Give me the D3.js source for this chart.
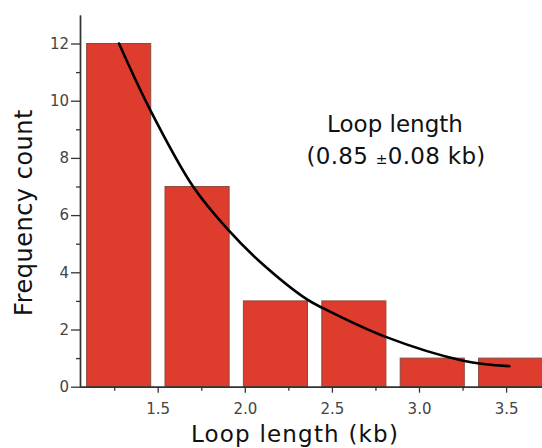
<!DOCTYPE html>
<html>
<head>
<meta charset="utf-8">
<script src="https://cdn.jsdelivr.net/npm/d3@7"></script>
<style>
  html, body { margin: 0; padding: 0; background: #fff; }
  svg { display: block; }
  text { font-family: "DejaVu Sans", sans-serif; }
</style>
</head>
<body>
<svg id="chart" width="542" height="448"></svg>
<script>
// ---- data ----
const binLo = [1.05, 1.50, 1.95, 2.40, 2.85, 3.30];
const binHi = [1.50, 1.95, 2.40, 2.85, 3.30, 3.75];
const counts = [12, 7, 3, 3, 1, 1];

// exponential fit curve
const fitX = [1.278, 1.456, 1.704, 1.905, 2.087, 2.355, 2.451, 2.805, 3.254, 3.518];
const fitY = [12.0, 9.69, 6.99, 5.48, 4.37, 3.06, 2.74, 1.75, 0.91, 0.72];

const xMajorTicks = [1.5, 2.0, 2.5, 3.0, 3.5];
const xMinorTicks = [1.25, 1.75, 2.25, 2.75, 3.25];
const yMajorTicks = [0, 2, 4, 6, 8, 10, 12];
const yMinorTicks = [1, 3, 5, 7, 9, 11];

const xTitle = "Loop length (kb)";
const yTitle = "Frequency count";
const noteLine1 = "Loop length";
const noteLine2a = "(0.85 ";
const notePM = "±";
const noteLine2b = "0.08 kb)";

// ---- layout ----
const svg = d3.select("#chart");
const x = d3.scaleLinear().domain([1.054, 3.706]).range([80, 542]);
const y = d3.scaleLinear().domain([0, 13]).range([386.7, 14.9]);
const barInsetL = 0.042, barInsetR = 0.04;

// bars
svg.append("g").selectAll("rect")
  .data(counts)
  .join("rect")
  .attr("x", (d, i) => x(binLo[i] + barInsetL))
  .attr("width", (d, i) => x(binHi[i] - barInsetR) - x(binLo[i] + barInsetL))
  .attr("y", d => y(d))
  .attr("height", d => y(0) - y(d))
  .attr("fill", "#de3c2c")
  .attr("stroke", "#8a4a40")
  .attr("stroke-width", 1);

// fit curve
const pts = fitX.map((v, i) => [v, fitY[i]]);
svg.append("path")
  .datum(pts)
  .attr("fill", "none")
  .attr("stroke", "#000")
  .attr("stroke-width", 2.6)
  .attr("stroke-linecap", "round")
  .attr("d", d3.line().x(d => x(d[0])).y(d => y(d[1])).curve(d3.curveCatmullRom.alpha(0.5)));

// axes
function styleAxis(g) {
  g.selectAll(".domain").attr("stroke", "#333").attr("stroke-width", 1.4);
  g.selectAll(".tick line").attr("stroke", "#333").attr("stroke-width", 1.3);
  g.selectAll(".tick text").attr("fill", "#444").style("font-size", "15px")
    .style("font-family", "'DejaVu Sans', sans-serif");
}

const yAxis = svg.append("g").attr("transform", "translate(80,0)")
  .call(d3.axisLeft(y).tickValues(yMajorTicks).tickSize(9).tickPadding(2).tickSizeOuter(0).tickFormat(d3.format("d")));
styleAxis(yAxis);
const yMinor = svg.append("g").attr("transform", "translate(80,0)")
  .call(d3.axisLeft(y).tickValues(yMinorTicks).tickSize(4).tickFormat("").tickSizeOuter(0));
styleAxis(yMinor);

const xAxis = svg.append("g").attr("transform", `translate(0,${y(0)})`)
  .call(d3.axisBottom(x).tickValues(xMajorTicks).tickSize(6).tickPadding(11).tickSizeOuter(0).tickFormat(d3.format(".1f")));
styleAxis(xAxis);
const xMinor = svg.append("g").attr("transform", `translate(0,${y(0)})`)
  .call(d3.axisBottom(x).tickValues(xMinorTicks).tickSize(4).tickFormat("").tickSizeOuter(0));
styleAxis(xMinor);

// titles
svg.append("text")
  .attr("x", 295).attr("y", 441.5)
  .attr("text-anchor", "middle")
  .style("font-size", "23px").style("letter-spacing", "1.2px").attr("fill", "#111")
  .text(xTitle);

svg.append("text")
  .attr("transform", "translate(32,212.5) rotate(-90)")
  .attr("text-anchor", "middle")
  .style("font-size", "24px").style("letter-spacing", "0.5px").attr("fill", "#111")
  .text(yTitle);

// annotation
svg.append("text")
  .attr("x", 395).attr("y", 131.5)
  .attr("text-anchor", "middle")
  .style("font-size", "23px").attr("fill", "#111")
  .text(noteLine1);

const t2 = svg.append("text")
  .attr("x", 396).attr("y", 163.5)
  .attr("text-anchor", "middle")
  .style("font-size", "23px").style("letter-spacing", "0.3px").attr("fill", "#111");
t2.append("tspan").text(noteLine2a);
t2.append("tspan").style("font-size", "14px").text(notePM);
t2.append("tspan").text(noteLine2b);
</script>
</body>
</html>
